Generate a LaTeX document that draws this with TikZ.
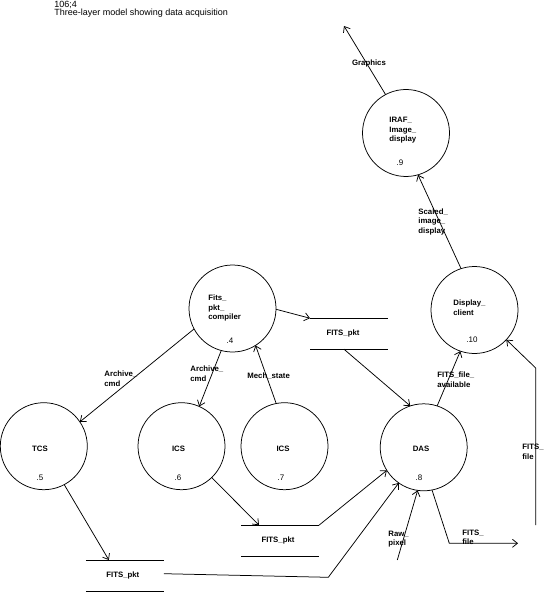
\documentclass[tikz,border=0pt]{standalone}
\usepackage{fontspec}
\setmainfont{Liberation Sans}
\usetikzlibrary{arrows.meta}
\tikzset{
  proc/.style={circle, draw, minimum size=87pt, inner sep=0pt, outer sep=0pt},
  storebox/.style={minimum width=78pt, minimum height=31pt, inner sep=0pt, outer sep=0pt},
  lbl/.style={font=\fontsize{7.8}{9.6}\selectfont\bfseries, inner sep=0pt, align=left},
  num/.style={font=\fontsize{8}{9.6}\selectfont, inner sep=0pt},
  flow/.style={-{Straight Barb[length=5pt,width=8pt]}},
  hdr/.style={font=\fontsize{9}{9.6}\selectfont, inner sep=0pt, anchor=west}
}
\begin{document}
\begin{tikzpicture}[x=1pt,y=-1pt,line width=0.75pt]
\useasboundingbox (0,0) rectangle (548,593);
% header
\node[hdr] (h1) at (54,4.5) {106;4};
\node[hdr] (h2) at (54,13.5) {Three-layer model showing data acquisition};
% processes
\node[proc] (iraf) at (406,133) {};
\node[proc] (comp) at (232.5,308.5) {};
\node[proc] (tcs) at (43.8,446.2) {};
\node[proc] (ics6) at (181.5,446.2) {};
\node[proc] (ics7) at (284.5,446.2) {};
\node[proc] (das) at (423.7,447.3) {};
\node[proc] (disp) at (474.5,310) {};
% process texts
\node[lbl, anchor=west] (tiraf) at (389,130.3) {IRAF\_\\Image\_\\display};
\node[num] (niraf) at (400,163) {.9};
\node[lbl, anchor=west] (tcomp) at (208,308) {Fits\_\\pkt\_\\compiler};
\node[num] (ncomp) at (230,341) {.4};
\node[lbl] (ttcs) at (40,449) {TCS};
\node[num] (ntcs) at (40,478) {.5};
\node[lbl] (tics6) at (178.5,449) {ICS};
\node[num] (nics6) at (178,478) {.6};
\node[lbl] (tics7) at (283,449) {ICS};
\node[num] (nics7) at (281,478) {.7};
\node[lbl] (tdas) at (421,449) {DAS};
\node[num] (ndas) at (419,478) {.8};
\node[lbl, anchor=west] (tdisp) at (453,308) {Display\_\\client};
\node[num] (ndisp) at (472,340) {.10};
% stores
\node[storebox, label={[lbl, xshift=-6pt]center:FITS\_pkt}] (pkt1) at (349,333.75) {};
\node[storebox, label={[lbl, xshift=-2pt]center:FITS\_pkt}] (pkt2) at (280,540.7) {};
\node[storebox, label={[lbl, xshift=-2pt]center:FITS\_pkt}] (pkt3) at (124.85,575.5) {};
\foreach \s in {pkt1,pkt2,pkt3}{
  \draw (\s.north west) -- (\s.north east) (\s.south west) -- (\s.south east);
}
% free ends
\coordinate (gout) at (344,26);
\coordinate (ffin) at (535.7,525);
\coordinate (ffbend) at (535.7,368);
\coordinate (outbend) at (449.3,543.3);
\coordinate (fout) at (518,543.3);
\coordinate (rawin) at (397.3,560);
\coordinate (p3bend) at (328.3,577.3);
% flows
\draw[flow] (iraf.118) -- (gout);
\draw[flow] (disp.108.6) -- (iraf.-74);
\draw[flow] (comp.-1) -- (pkt1.north west);
\draw[flow] ([xshift=-5pt]pkt1.south) -- (das.108);
\draw[flow] (comp.-152) -- (tcs.34.5);
\draw[flow] (comp.-105.6) -- (ics6.66.8);
\draw[flow] (ics7.101.8) -- (comp.-58.6);
\draw[flow] (das.72.6) -- (disp.-109.5);
\draw[flow] (ffin) -- (ffbend) -- (disp.-43.6);
\draw[flow] (das.-79.4) -- (outbend) -- (fout);
\draw[flow] (rawin) -- (das.-98);
\draw[flow] (ics6.-46.2) -- ([xshift=18pt]pkt2.north west);
\draw[flow] (tcs.-62.4) -- ([xshift=23pt]pkt3.north west);
\draw[flow] (pkt2.north east) -- (das.-148.5);
\draw[flow] ([yshift=1.8pt]pkt3.east) -- (p3bend) -- (das.-125.3);
% flow labels
\node[lbl] (lgraph) at (369,63) {Graphics};
\node[lbl, anchor=west] (lscaled) at (418,221.7) {Scaled\_\\image\_\\display};
\node[lbl, anchor=west] (larch1) at (104,379) {Archive\_\\cmd};
\node[lbl, anchor=west] (larch2) at (190,374) {Archive\_\\cmd};
\node[lbl, anchor=west] (lmech) at (247,376) {Mech\_state};
\node[lbl, anchor=west] (lavail) at (437,379.5) {FITS\_file\_\\available};
\node[lbl, anchor=west] (lffin) at (522,452) {FITS\_\\file};
\node[lbl, anchor=west] (lffout) at (462,537.5) {FITS\_\\file};
\node[lbl, anchor=west] (lraw) at (388,539) {Raw\_\\pixel};
\end{tikzpicture}
\end{document}
